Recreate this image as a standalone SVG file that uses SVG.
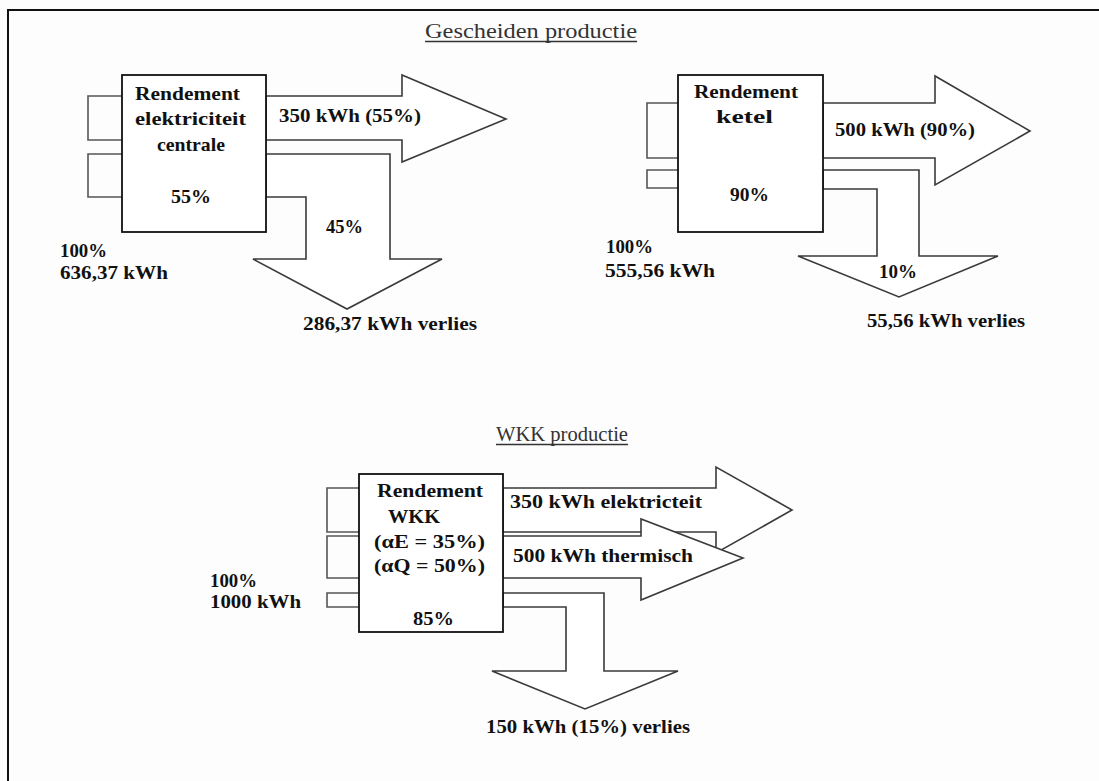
<svg xmlns="http://www.w3.org/2000/svg" width="1099" height="781" viewBox="0 0 1099 781">
<style>
.bg{fill:#fdfdfd}
.frame{stroke:#111;stroke-width:2;fill:none}
.flow{fill:#fff;stroke:#3a3a3a;stroke-width:1.6;stroke-linejoin:miter}
.brk{fill:none;stroke:#555;stroke-width:1.6}
.box{fill:#fff;stroke:#111;stroke-width:1.8}
.t{font-family:"Liberation Serif","Times New Roman",serif;font-weight:bold;font-size:19px;fill:#111}
.title{font-family:"Liberation Serif","Times New Roman",serif;font-size:20px;fill:#333}
.ul{stroke:#333;stroke-width:1.3}
</style>
<rect class="bg" x="0" y="0" width="1099" height="781"/>
<polyline class="frame" points="8,781 8,10 1099,10"/>

<g id="titles">
<text class="title" x="425" y="38" textLength="212" lengthAdjust="spacingAndGlyphs">Gescheiden productie</text>
<line class="ul" x1="425" y1="41.5" x2="637" y2="41.5"/>
<text class="title" x="496" y="441" textLength="132" lengthAdjust="spacingAndGlyphs">WKK productie</text>
<line class="ul" x1="496" y1="444.5" x2="628" y2="444.5"/>
</g>

<g id="connectors">
<polyline class="brk" points="122,96 88,96 88,140 122,140"/>
<polyline class="brk" points="122,154 88,154 88,197 122,197"/>
<polygon class="flow" points="266,96 402,96 402,75 506,119 402,162 402,140 266,140"/>
<polygon class="flow" points="266,154 390,154 390,259 442,259 347,309 253,259 306,259 306,197 266,197"/>
<polyline class="brk" points="678,103 647,103 647,158 678,158"/>
<polyline class="brk" points="678,170 647,170 647,188 678,188"/>
<polygon class="flow" points="823,103 935,103 935,76 1030,131 935,185 935,158 823,158"/>
<polygon class="flow" points="823,170 919,170 919,256 998,256 899,297 798,256 877,256 877,189 823,189"/>
<polyline class="brk" points="359,488 327,488 327,532 359,532"/>
<polyline class="brk" points="359,536 327,536 327,578 359,578"/>
<polyline class="brk" points="359,593 327,593 327,607 359,607"/>
<polygon class="flow" points="503,488 716,488 716,467 792,510 716,553 716,532 503,532"/>
<polygon class="flow" points="503,536 641,536 641,519 743,558 641,600 641,578 503,578"/>
<polygon class="flow" points="503,593 604,593 604,671 678,671 585,709 492,671 566,671 566,607 503,607"/>
</g>

<g id="node-centrale">
<rect class="box" x="122" y="75" width="144" height="157"/>
<text class="t" x="135" y="100" textLength="105" lengthAdjust="spacingAndGlyphs">Rendement</text>
<text class="t" x="135" y="125" textLength="111" lengthAdjust="spacingAndGlyphs">elektriciteit</text>
<text class="t" x="157" y="151" textLength="68" lengthAdjust="spacingAndGlyphs">centrale</text>
<text class="t" x="171" y="203" textLength="40" lengthAdjust="spacingAndGlyphs">55%</text>
</g>
<g id="labels-centrale">
<text class="t" x="279" y="122" textLength="142" lengthAdjust="spacingAndGlyphs">350 kWh (55%)</text>
<text class="t" x="326" y="233" textLength="37" lengthAdjust="spacingAndGlyphs">45%</text>
<text class="t" x="60" y="257" textLength="47" lengthAdjust="spacingAndGlyphs">100%</text>
<text class="t" x="60" y="279" textLength="108" lengthAdjust="spacingAndGlyphs">636,37 kWh</text>
<text class="t" x="303" y="330" textLength="174" lengthAdjust="spacingAndGlyphs">286,37 kWh verlies</text>
</g>

<g id="node-ketel">
<rect class="box" x="678" y="75" width="145" height="157"/>
<text class="t" x="694" y="98" textLength="104" lengthAdjust="spacingAndGlyphs">Rendement</text>
<text class="t" x="716" y="123" textLength="57" lengthAdjust="spacingAndGlyphs">ketel</text>
<text class="t" x="730" y="201" textLength="39" lengthAdjust="spacingAndGlyphs">90%</text>
</g>
<g id="labels-ketel">
<text class="t" x="835" y="136" textLength="140" lengthAdjust="spacingAndGlyphs">500 kWh (90%)</text>
<text class="t" x="879" y="278" textLength="38" lengthAdjust="spacingAndGlyphs">10%</text>
<text class="t" x="606" y="253" textLength="47" lengthAdjust="spacingAndGlyphs">100%</text>
<text class="t" x="605" y="277" textLength="110" lengthAdjust="spacingAndGlyphs">555,56 kWh</text>
<text class="t" x="867" y="327" textLength="158" lengthAdjust="spacingAndGlyphs">55,56 kWh verlies</text>
</g>

<g id="node-wkk">
<rect class="box" x="359" y="474" width="144" height="158"/>
<text class="t" x="377" y="497" textLength="106" lengthAdjust="spacingAndGlyphs">Rendement</text>
<text class="t" x="388" y="523" textLength="52" lengthAdjust="spacingAndGlyphs">WKK</text>
<text class="t" x="374" y="548" textLength="111" lengthAdjust="spacingAndGlyphs">(αE = 35%)</text>
<text class="t" x="374" y="572" textLength="111" lengthAdjust="spacingAndGlyphs">(αQ = 50%)</text>
<text class="t" x="413" y="625" textLength="41" lengthAdjust="spacingAndGlyphs">85%</text>
</g>
<g id="labels-wkk">
<text class="t" x="510" y="508" textLength="192" lengthAdjust="spacingAndGlyphs">350 kWh elektricteit</text>
<text class="t" x="513" y="562" textLength="180" lengthAdjust="spacingAndGlyphs">500 kWh thermisch</text>
<text class="t" x="210" y="587" textLength="47" lengthAdjust="spacingAndGlyphs">100%</text>
<text class="t" x="210" y="608" textLength="91" lengthAdjust="spacingAndGlyphs">1000 kWh</text>
<text class="t" x="486" y="733" textLength="204" lengthAdjust="spacingAndGlyphs">150 kWh (15%) verlies</text>
</g>
</svg>
